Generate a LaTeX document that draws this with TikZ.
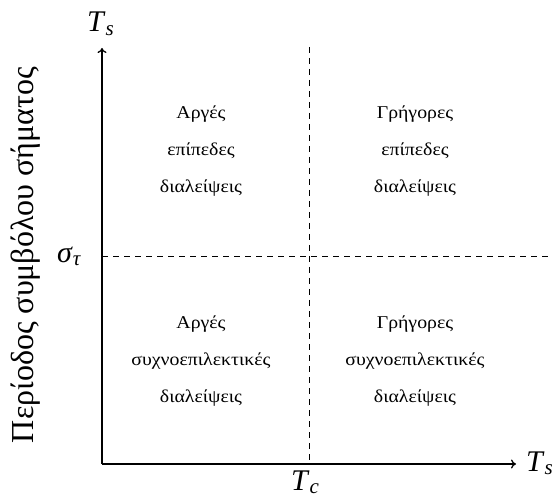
\documentclass[tikz,border=0pt]{standalone}
\usepackage{fontspec}
\setmainfont{Liberation Serif}
\newfontfamily\widegreek[FakeStretch=1.1]{Liberation Serif}
\usetikzlibrary{arrows.meta}
\begin{document}
\begin{tikzpicture}[x=1pt,y=-1pt,
  axis/.style={line width=1.3pt,-{To[length=5pt,width=9pt]}},
  guide/.style={line width=0.7pt,dash pattern=on 6pt off 5pt},
  quad/.style={align=center,font=\widegreek\fontsize{18}{37}\selectfont},
  big/.style={inner sep=0pt,font=\fontsize{30}{34}\selectfont},
  title/.style={font=\fontsize{32}{36}\selectfont}]
\useasboundingbox (0,0) rectangle (555,500);
\coordinate (O) at (102,464);
\coordinate (ytip) at (102,48);
\coordinate (xtip) at (516,464);
\coordinate (vtop) at (309,47);
\coordinate (vbot) at (309,464);
\coordinate (hl) at (102,256);
\coordinate (hr) at (548,256);
\draw[guide] (vtop) -- (vbot);
\draw[guide] (hl) -- (hr);
\draw[axis] (O) -- (ytip);
\draw[axis] (O) -- (xtip);
\node[big,anchor=base west] (ylab) at (87,32) {\textit{T}\textsubscript{\textit{s}}};
\node[big,anchor=base west] (xlab) at (526,471) {\textit{T}\textsubscript{\textit{s}}};
\node[big,anchor=base west] (tc) at (291,490) {\textit{T}\textsubscript{\textit{c}}};
\node[big,anchor=base west] (st) at (57,262) {\textit{σ}\textsubscript{\textit{τ}}};
\node[title,rotate=90] (ttl) at (26,255) {Περίοδος συμβόλου σήματος};
\node[quad] (q1) at (201,151) {Αργές\\επίπεδες\\διαλείψεις};
\node[quad] (q2) at (415,151) {Γρήγορες\\επίπεδες\\διαλείψεις};
\node[quad] (q3) at (201,361) {Αργές\\συχνοεπιλεκτικές\\διαλείψεις};
\node[quad] (q4) at (415,361) {Γρήγορες\\συχνοεπιλεκτικές\\διαλείψεις};
\end{tikzpicture}
\end{document}
